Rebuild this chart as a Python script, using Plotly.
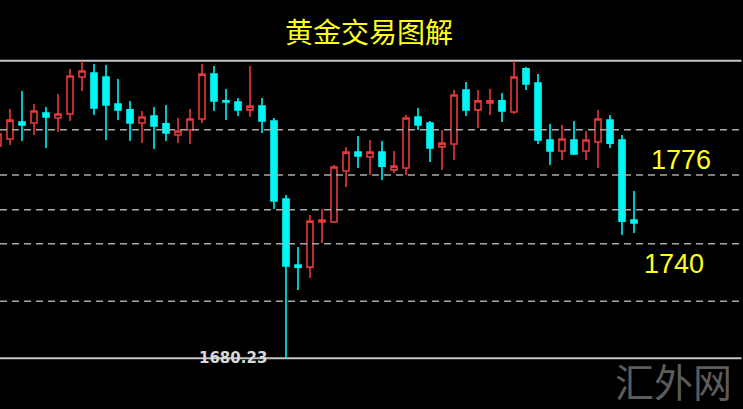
import plotly.graph_objects as go

# candle index (each bar is one period)
idx = list(range(54))
opens = [1791.0, 1794.6, 1803.5, 1803.0, 1808.2, 1805.6, 1807.7, 1827.0, 1829.1, 1827.0,
         1812.9, 1809.8, 1803.0, 1806.6, 1802.5, 1796.7, 1799.3, 1805.1, 1828.5, 1814.5,
         1813.9, 1809.8, 1811.8, 1804.0, 1763.3, 1728.9, 1727.8, 1751.3, 1751.3, 1777.9,
         1787.8, 1785.2, 1787.8, 1778.5, 1779.5, 1806.1, 1803.0, 1790.5, 1792.0, 1820.2,
         1809.8, 1813.4, 1814.5, 1808.7, 1831.2, 1823.8, 1794.1, 1788.4, 1794.1, 1788.4,
         1793.1, 1804.5, 1794.1, 1752.4]
highs = [1801.9, 1810.3, 1819.7, 1812.9, 1811.3, 1818.1, 1831.2, 1835.3, 1833.8, 1833.2,
         1825.9, 1814.5, 1809.2, 1811.3, 1812.4, 1805.6, 1810.3, 1833.8, 1832.7, 1820.7,
         1816.0, 1832.7, 1816.0, 1805.6, 1765.4, 1738.3, 1755.0, 1758.1, 1781.1, 1790.5,
         1796.2, 1794.1, 1793.6, 1788.4, 1807.2, 1810.8, 1804.0, 1799.3, 1820.2, 1824.4,
         1820.2, 1820.7, 1818.6, 1835.3, 1832.2, 1828.5, 1802.5, 1801.9, 1804.0, 1798.8,
         1809.8, 1807.2, 1796.7, 1767.5]
lows = [1790.5, 1791.5, 1793.6, 1796.7, 1789.9, 1798.3, 1804.0, 1819.7, 1807.2, 1794.1,
        1804.5, 1793.6, 1792.5, 1789.4, 1793.6, 1792.5, 1792.0, 1803.0, 1809.2, 1804.5,
        1806.6, 1806.1, 1797.8, 1758.1, 1680.23, 1715.8, 1722.1, 1740.4, 1750.8, 1769.6,
        1779.5, 1775.8, 1773.2, 1776.9, 1775.8, 1799.3, 1782.6, 1778.5, 1783.7, 1806.6,
        1800.4, 1807.2, 1803.5, 1807.7, 1820.2, 1792.0, 1781.1, 1783.7, 1786.3, 1783.7,
        1779.5, 1789.9, 1744.5, 1745.6]
closes = [1797.2, 1804.5, 1801.9, 1809.2, 1806.1, 1807.7, 1827.5, 1830.1, 1810.8, 1812.4,
          1809.8, 1803.0, 1806.1, 1801.4, 1797.8, 1798.8, 1805.1, 1828.5, 1814.5, 1813.9,
          1809.8, 1811.8, 1804.0, 1762.3, 1728.4, 1727.8, 1751.8, 1752.4, 1780.0, 1787.8,
          1785.8, 1787.8, 1780.5, 1780.5, 1805.6, 1801.9, 1789.9, 1792.5, 1817.6, 1809.8,
          1814.5, 1814.5, 1809.2, 1827.0, 1823.3, 1794.1, 1788.4, 1794.6, 1786.8, 1794.1,
          1805.1, 1792.5, 1751.8, 1750.8]

dashed_levels = [1799.5, 1775.8, 1757.7, 1740.0, 1710.0]
solid_levels = [1835.5, 1680.23]
title_text = "黄金交易图解"
key_labels = ["1776", "1740"]
low_label = "1680.23"
watermark = "汇外网"

W, H = 743, 409
fig = go.Figure()
fig.add_trace(go.Candlestick(
    x=idx, open=opens, high=highs, low=lows, close=closes,
    increasing=dict(line=dict(color="#e8393a", width=1.6), fillcolor="#000000"),
    decreasing=dict(line=dict(color="#00f5f5", width=1.6), fillcolor="#00f5f5"),
    whiskerwidth=0, hoverinfo="skip", showlegend=False,
))

shapes = []
for lv in dashed_levels:
    shapes.append(dict(type="line", xref="paper", x0=0, x1=1, yref="y", y0=lv, y1=lv,
                       line=dict(color="#a8a8a8", width=1.5, dash="7px,5px"), layer="above"))
for lv in solid_levels:
    shapes.append(dict(type="line", xref="paper", x0=0, x1=0.998, yref="y", y0=lv, y1=lv,
                       line=dict(color="#c4c4c4", width=2), layer="below"))

def px(x):
    return x / W

def py(y):
    return 1 - y / H

annotations = [
    dict(text=title_text, x=px(369), y=py(31), xref="paper", yref="paper",
         showarrow=False, xanchor="center", yanchor="middle",
         font=dict(family="Noto Sans CJK SC", size=28, color="#ffff1a")),
    dict(text=key_labels[0], x=px(681), y=py(160), xref="paper", yref="paper",
         showarrow=False, xanchor="center", yanchor="middle",
         font=dict(family="Liberation Sans", size=27, color="#ffff1a")),
    dict(text=key_labels[1], x=px(674), y=py(264), xref="paper", yref="paper",
         showarrow=False, xanchor="center", yanchor="middle",
         font=dict(family="Liberation Sans", size=27, color="#ffff1a")),
    dict(text=low_label, x=px(233), y=1680.23, xref="paper", yref="y",
         showarrow=False, xanchor="center", yanchor="middle",
         font=dict(family="DejaVu Sans", size=15, color="#d8d8d8", weight="bold"),
         bgcolor="rgba(0,0,0,0)"),
    dict(text=watermark, x=px(673), y=py(380), xref="paper", yref="paper",
         showarrow=False, xanchor="center", yanchor="middle",
         font=dict(family="Noto Sans CJK SC", size=39, color="#5c5c5c")),
]

fig.update_layout(
    width=W, height=H, autosize=False,
    margin=dict(l=0, r=0, t=0, b=0),
    paper_bgcolor="#000000", plot_bgcolor="#000000",
    xaxis=dict(range=[0.1667, 62.083], visible=False, rangeslider=dict(visible=False),
               fixedrange=True),
    yaxis=dict(range=[1653.76, 1867.15], visible=False, fixedrange=True),
    boxgap=0.28,
    shapes=shapes, annotations=annotations,
    showlegend=False,
)

fig.write_html(
    "out.html",
    config={"displayModeBar": False},
    post_script="document.body.style.margin='0';document.body.style.padding='0';"
                "document.body.style.background='#000';"
                "document.documentElement.style.overflow='hidden';",
)
